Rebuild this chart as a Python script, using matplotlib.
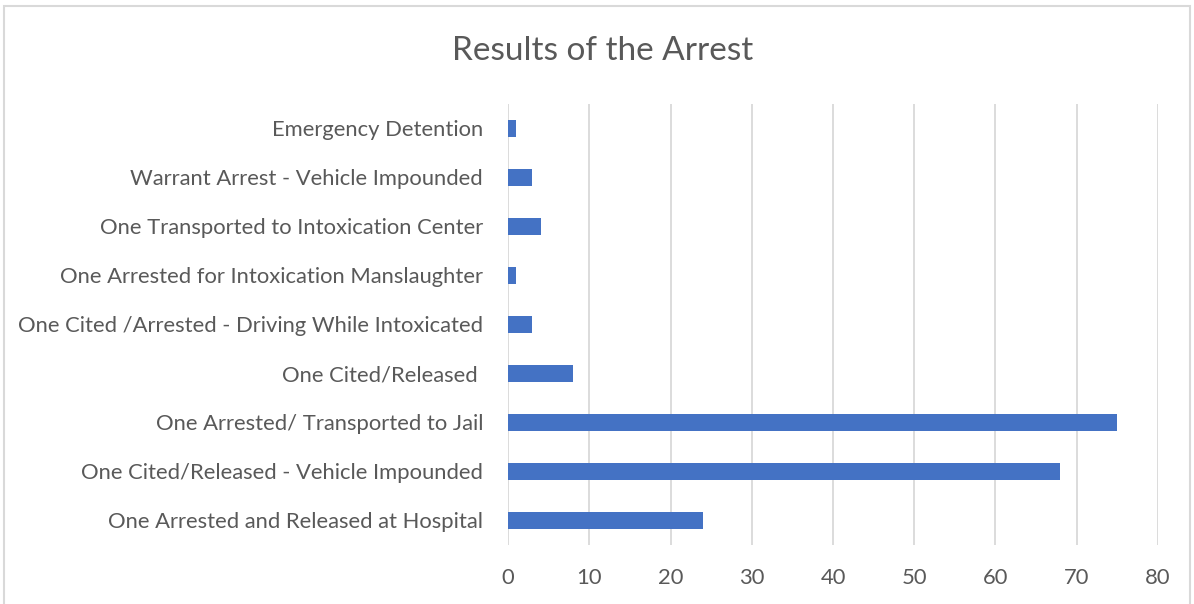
import matplotlib.pyplot as plt
from matplotlib.patches import Rectangle

# Datos (de abajo hacia arriba, como en el gráfico)
categorias = [
    "One Arrested and Released at Hospital",
    "One Cited/Released - Vehicle Impounded",
    "One Arrested/ Transported to Jail",
    "One Cited/Released ",
    "One Cited /Arrested - Driving While Intoxicated",
    "One Arrested for Intoxication Manslaughter",
    "One Transported to Intoxication Center",
    "Warrant Arrest - Vehicle Impounded",
    "Emergency Detention",
]
valores = [24, 68, 75, 8, 3, 1, 4, 3, 1]
ticks_x = [0, 10, 20, 30, 40, 50, 60, 70, 80]

gris = "#595959"
plt.rcParams["font.family"] = ["Lato", "DejaVu Sans"]

fig = plt.figure(figsize=(11.94, 6.04), dpi=100)
ax = fig.add_axes([0.4255, 0.098, 0.5443, 0.73])

ax.barh(range(len(categorias)), valores, height=0.35, color="#4472c4",
        zorder=3)
ax.set_xlim(0, 80)
ax.set_ylim(-0.5, len(categorias) - 0.5)
ax.set_xticks(ticks_x)
ax.set_yticks(range(len(categorias)))
ax.set_yticklabels(categorias)
ax.grid(axis="x", color="#d9d9d9", linewidth=1.3, zorder=0)
for s in ax.spines.values():
    s.set_visible(False)
ax.tick_params(axis="both", length=0, colors=gris, labelsize=15.8)
ax.tick_params(axis="x", pad=17)
ax.tick_params(axis="y", pad=18)

fig.text(0.5045, 0.915, "Results of the Arrest", ha="center", va="center",
         fontsize=24, color=gris)

# borde del gráfico
fig.patches.append(Rectangle((0.003, -0.01), 0.994, 1.0, transform=fig.transFigure,
                             fill=False, edgecolor="#d9d9d9", linewidth=1.5))

fig.savefig("out.png", dpi=100)
